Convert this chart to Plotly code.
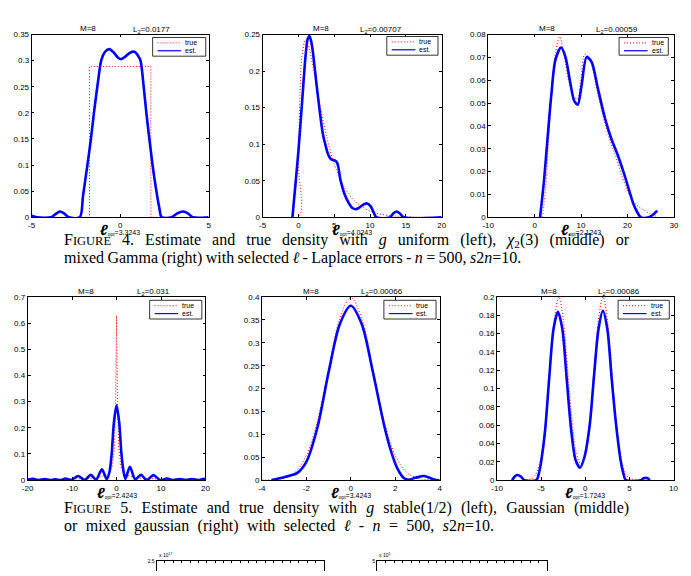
import plotly.graph_objects as go

W, H = 691, 576

# ---------------- data ----------------
# Figure 4 left : g uniform
uni_true = [(-5, 0), (-1.732, 0), (-1.732, 0.2887), (1.732, 0.2887), (1.732, 0), (5, 0)]
uni_est = [(-5, 0.003), (-4.7, 0), (-3.9, 0), (-3.65, 0.006), (-3.4, 0.011), (-3.15, 0.007),
           (-2.9, 0), (-2.28, 0), (-2.1, 0.04), (-1.85, 0.1), (-1.65, 0.15), (-1.48, 0.2),
           (-1.25, 0.26), (-1.07, 0.3), (-0.85, 0.317), (-0.61, 0.322), (-0.35, 0.315),
           (-0.1, 0.305), (0.07, 0.303), (0.3, 0.308), (0.55, 0.315), (0.81, 0.317),
           (1.0, 0.31), (1.15, 0.3), (1.3, 0.26), (1.48, 0.2), (1.65, 0.15), (1.83, 0.1),
           (2.0, 0.06), (2.2, 0.02), (2.35, 0), (2.9, 0), (3.2, 0.007), (3.55, 0.011),
           (3.85, 0.007), (4.1, 0), (5, 0)]

# Figure 4 middle : chi2(3)
chi_true = [(-5, 0), (0, 0), (0.03, 0.067), (0.1, 0.12), (0.25, 0.176), (0.5, 0.22), (1, 0.242),
            (1.5, 0.231), (2, 0.208), (3, 0.154), (4, 0.108), (5, 0.073), (6, 0.049), (7, 0.032),
            (8, 0.021), (10, 0.0085), (12, 0.0034), (15, 0.0009), (20, 0.0001)]
chi_est = [(-0.83, 0), (-0.5, 0.035), (0, 0.09), (0.5, 0.155), (1.0, 0.22), (1.3, 0.244),
           (1.55, 0.248), (1.8, 0.24), (2.0, 0.228), (2.5, 0.185), (2.92, 0.15), (3.4, 0.115),
           (3.75, 0.1), (4.2, 0.085), (4.6, 0.079), (5.0, 0.078), (5.4, 0.075), (5.9, 0.05),
           (6.4, 0.033), (7.0, 0.02), (7.5, 0.013), (8.0, 0.011), (8.6, 0.014), (9.2, 0.018),
           (9.6, 0.019), (10.1, 0.015), (10.5, 0.007), (10.9, 0), (12.8, 0), (13.2, 0.005),
           (13.7, 0.008), (14.2, 0.005), (14.7, 0), (20, 0)]

# Figure 4 right : mixed Gamma
gam_true = [(1.66, 0), (2.37, 0.013), (3.07, 0.036), (3.78, 0.057), (4.49, 0.072), (5.41, 0.079),
            (6.25, 0.072), (7.31, 0.060), (8.37, 0.053), (9.22, 0.0517), (9.93, 0.060),
            (10.85, 0.0714), (11.9, 0.069), (13.3, 0.057), (14.7, 0.0445), (16.1, 0.0345),
            (17.6, 0.026), (19.0, 0.017), (20.4, 0.010), (21.8, 0.0057), (23.2, 0.0036),
            (24.6, 0.0019), (26.4, 0.0003)]
gam_est = [(1.17, 0), (2.01, 0.0158), (2.72, 0.033), (3.57, 0.053), (4.49, 0.069), (5.69, 0.0743),
           (6.61, 0.0704), (7.67, 0.059), (8.52, 0.051), (9.29, 0.0493), (10.1, 0.0575),
           (11.2, 0.0701), (12.26, 0.068), (13.67, 0.056), (15.1, 0.0438), (16.5, 0.0345),
           (17.9, 0.0273), (19.33, 0.0187), (20.4, 0.0115), (21.45, 0.005), (22.9, 0),
           (24.6, 0), (25.5, 0.0011), (26.4, 0.0029)]

# Figure 5 left : stable(1/2)
stb_true = [(-20, 0.002), (-10, 0.004), (-5, 0.008), (-2, 0.02), (-1, 0.05), (-0.5, 0.12),
            (-0.2, 0.3), (0, 0.63), (0.2, 0.3), (0.5, 0.12), (1, 0.05), (2, 0.02), (5, 0.008),
            (10, 0.004), (20, 0.002)]
stb_est = [(-20, 0.001), (-18.8, 0.005), (-17.5, 0), (-16.2, 0.004), (-15, 0), (-13.8, 0.003),
           (-12.6, 0), (-11.5, 0.006), (-10.2, 0), (-8.6, 0.016), (-7.2, 0), (-5.8, 0.02),
           (-4.6, 0.002), (-3.3, 0.041), (-2.2, 0.004), (-1.6, 0.03), (-1.1, 0.1), (-0.6, 0.22),
           (0, 0.286), (0.6, 0.22), (1.1, 0.1), (1.6, 0.03), (2.0, 0.005), (3.0, 0.051),
           (4.2, 0.003), (5.5, 0.02), (6.8, 0), (8.3, 0.019), (9.8, 0), (11.3, 0.006),
           (12.8, 0), (14.2, 0.004), (15.6, 0), (17, 0.004), (18.4, 0), (19.6, 0.005), (20, 0.003)]

# Figure 5 middle : Gaussian
gau_true = [(-4, 0.0001), (-3.5, 0.0009), (-3, 0.0044), (-2.5, 0.0175), (-2, 0.054), (-1.5, 0.1295),
            (-1, 0.242), (-0.5, 0.352), (0, 0.399), (0.5, 0.352), (1, 0.242), (1.5, 0.1295),
            (2, 0.054), (2.5, 0.0175), (3, 0.0044), (3.5, 0.0009), (4, 0.0001)]
gau_est = [(-3.56, 0), (-3.2, 0.004), (-2.8, 0.009), (-2.4, 0.016), (-2.0, 0.04), (-1.5, 0.115),
           (-1.0, 0.235), (-0.5, 0.34), (0, 0.381), (0.5, 0.34), (1.0, 0.235), (1.5, 0.12),
           (1.8, 0.065), (2.1, 0.025), (2.4, 0.004), (2.6, 0.001), (2.9, 0.005), (3.3, 0.009),
           (3.6, 0.004), (3.85, 0), (4, 0)]

# Figure 5 right : mixed gaussian
mix_true = [(-7, 0), (-6, 0.0022), (-5.5, 0.0088), (-5, 0.027), (-4.5, 0.065), (-4, 0.121),
            (-3.5, 0.176), (-3, 0.2), (-2.5, 0.176), (-2, 0.121), (-1.5, 0.066), (-1, 0.029),
            (-0.5, 0.0175), (0, 0.029), (0.5, 0.066), (1, 0.121), (1.5, 0.176), (2, 0.2),
            (2.5, 0.176), (3, 0.121), (3.5, 0.065), (4, 0.027), (4.5, 0.0088), (5, 0.0022), (6, 0)]
mix_est = [(-8.3, 0), (-8.0, 0.004), (-7.7, 0.0057), (-7.3, 0.004), (-6.9, 0), (-5.55, 0),
           (-5.2, 0.01), (-4.6, 0.05), (-4.1, 0.11), (-3.6, 0.165), (-3.1, 0.184), (-2.6, 0.165),
           (-2.1, 0.11), (-1.6, 0.055), (-1.1, 0.022), (-0.6, 0.0136), (-0.1, 0.025), (0.5, 0.06),
           (1.0, 0.115), (1.5, 0.165), (2.0, 0.185), (2.5, 0.165), (3.0, 0.11), (3.5, 0.06),
           (4.0, 0.022), (4.3, 0.008), (4.6, 0), (6.3, 0), (6.6, 0.002), (6.85, 0.0025),
           (7.1, 0.002), (7.3, 0)]

series = [(uni_true, uni_est), (chi_true, chi_est), (gam_true, gam_est),
          (stb_true, stb_est), (gau_true, gau_est), (mix_true, mix_est)]
L2_values = ['0.0177', '0.00707', '0.00059', '0.031', '0.00066', '0.00086']
ell_values = ['3.3243', '4.0243', '2.1243', '2.4243', '3.4243', '1.7243']
M_value = '8'

x_ranges = [[-5, 5], [-5, 20], [-10, 30], [-20, 20], [-4, 4], [-10, 10]]
x_ticks = [[-5, 0, 5], [-5, 0, 5, 10, 15, 20], [-10, 0, 10, 20, 30],
           [-20, -10, 0, 10, 20], [-4, -2, 0, 2, 4], [-10, -5, 0, 5, 10]]
y_ranges = [[0, 0.35], [0, 0.25], [0, 0.08], [0, 0.7], [0, 0.4], [0, 0.2]]
y_steps = [0.05, 0.05, 0.01, 0.1, 0.05, 0.02]

# ---------------- layout geometry (pixels) ----------------
boxes = [(26, 206, 31, 216.7), (260.7, 442.7, 31, 216.7), (490, 678.7, 31, 216.7),
         (22, 202.7, 297.7, 483.7), (260, 440.7, 297.7, 483.7), (499, 678.3, 297.7, 483.7)]
title_fracs = [(0.317, 0.675), (0.326, 0.66), (0.318, 0.695), (0.33, 0.71), (0.277, 0.675), (0.296, 0.69)]
legend_boxes = [(149, 203, 34, 53), (387, 439, 33, 52), (623, 673, 34, 52),
                (146, 199, 301, 320), (384, 437, 301, 320), (622, 674, 301, 320)]

def px(x):
    return x / W

def py(y):
    return 1 - y / H

def fmt(v):
    return '%g' % v

SANS = 'Liberation Sans'
SERIF = 'Liberation Serif'
DOTS = '1px,2px'

fig = go.Figure()
annotations = []
shapes = []

for i, ((tr, es), box) in enumerate(zip(series, boxes)):
    n = i + 1
    xa = 'x' if n == 1 else f'x{n}'
    ya = 'y' if n == 1 else f'y{n}'
    tx, ty = zip(*tr)
    ex, ey = zip(*es)
    true_shape = 'linear' if i in (0, 3) else 'spline'
    fig.add_trace(go.Scatter(x=tx, y=ty, mode='lines', xaxis=xa, yaxis=ya,
                             line=dict(color='#ff0000', width=1, dash=DOTS, shape=true_shape),
                             showlegend=False, hoverinfo='skip'))
    fig.add_trace(go.Scatter(x=ex, y=ey, mode='lines', xaxis=xa, yaxis=ya,
                             line=dict(color='#0000ff', width=2.6, shape='spline', smoothing=0.8),
                             showlegend=False, hoverinfo='skip'))
    l, r, t, b = box
    yr = y_ranges[i]
    nstep = int(round(yr[1] / y_steps[i]))
    yt = [round(k * y_steps[i], 4) for k in range(nstep + 1)]
    common = dict(showline=True, linecolor='black', linewidth=0.8, mirror='ticks',
                  ticks='inside', ticklen=3, tickwidth=0.8, tickcolor='black',
                  showgrid=False, zeroline=False,
                  tickfont=dict(family=SANS, size=8, color='black'))
    xname = 'xaxis' if n == 1 else f'xaxis{n}'
    yname = 'yaxis' if n == 1 else f'yaxis{n}'
    fig.layout[xname] = dict(common, domain=[px(l), px(r)], anchor=ya, range=x_ranges[i],
                             tickvals=x_ticks[i], ticktext=[fmt(v) for v in x_ticks[i]])
    fig.layout[yname] = dict(common, domain=[py(b), py(t)], anchor=xa, range=yr,
                             tickvals=yt, ticktext=[fmt(v) for v in yt])

    # titles
    mf, lf = title_fracs[i]
    ty_px = t - 6
    annotations.append(dict(text=f'M={M_value}', x=px(l + mf * (r - l)), y=py(ty_px),
                            xref='paper', yref='paper', xanchor='center', yanchor='middle',
                            showarrow=False, font=dict(family=SANS, size=8, color='black')))
    annotations.append(dict(text=f'L<sub>2</sub>={L2_values[i]}', x=px(l + lf * (r - l)), y=py(ty_px + 1),
                            xref='paper', yref='paper', xanchor='center', yanchor='middle',
                            showarrow=False, font=dict(family=SANS, size=8, color='black')))
    # x label
    lab_y = b + 12.5
    annotations.append(dict(text=f'<span style="font-size:15px"><b><i>ℓ</i></b></span><sub>opt</sub>={ell_values[i]}',
                            x=px((l + r) / 2), y=py(lab_y), xref='paper', yref='paper',
                            xanchor='center', yanchor='middle',
                            showarrow=False, font=dict(family=SANS, size=7, color='black')))
    # legend box
    gl, gr, gt, gb = legend_boxes[i]
    shapes.append(dict(type='rect', xref='paper', yref='paper', x0=px(gl), x1=px(gr),
                       y0=py(gb), y1=py(gt), line=dict(color='black', width=0.8),
                       fillcolor='white', layer='above'))
    r1 = gt + 5.5
    r2 = gt + 13.5
    shapes.append(dict(type='line', xref='paper', yref='paper', x0=px(gl + 5), x1=px(gl + 29),
                       y0=py(r1), y1=py(r1), line=dict(color='#ff0000', width=1, dash=DOTS),
                       layer='above'))
    shapes.append(dict(type='line', xref='paper', yref='paper', x0=px(gl + 5), x1=px(gl + 29),
                       y0=py(r2), y1=py(r2), line=dict(color='#0000ff', width=1.2),
                       layer='above'))
    annotations.append(dict(text='true', x=px(gl + 31), y=py(r1), xref='paper', yref='paper',
                            xanchor='left', yanchor='middle', showarrow=False,
                            font=dict(family=SANS, size=7, color='black')))
    annotations.append(dict(text='est.', x=px(gl + 31), y=py(r2), xref='paper', yref='paper',
                            xanchor='left', yanchor='middle', showarrow=False,
                            font=dict(family=SANS, size=7, color='black')))

# partial plots at the bottom of the page (only their top edge is visible)
bottom_boxes = [(153, 323), (377, 550)]
bottom_top_tick = ['2.5', '5']
bottom_exp = ['17', '5']
for j, (l, r) in enumerate(bottom_boxes):
    n = 7 + j
    xa, ya = f'x{n}', f'y{n}'
    fig.add_trace(go.Scatter(x=[None], y=[None], xaxis=xa, yaxis=ya, mode='lines',
                             showlegend=False, hoverinfo='skip'))
    fig.layout[f'xaxis{n}'] = dict(domain=[px(l), px(r)], anchor=ya, side='top', range=[0, 10],
                                   showline=True, linecolor='black', linewidth=0.8, mirror=False,
                                   ticks='inside', ticklen=2, tickwidth=0.6, tickcolor='black',
                                   tickvals=[k * 0.5 for k in range(21)],
                                   showticklabels=False, showgrid=False, zeroline=False)
    fig.layout[f'yaxis{n}'] = dict(domain=[0, py(566)], anchor=xa, range=[2.3, 2.5],
                                   showline=True, linecolor='black', linewidth=0.8, mirror=True,
                                   ticks='inside', ticklen=2, tickcolor='black', tickvals=[2.5],
                                   ticktext=[bottom_top_tick[j]], showgrid=False, zeroline=False,
                                   tickfont=dict(family=SANS, size=5, color='black'))
    annotations.append(dict(text=f'x 10<sup>{bottom_exp[j]}</sup>', x=px(l), y=py(560),
                            xref='paper', yref='paper', xanchor='left', yanchor='middle',
                            showarrow=False, font=dict(family=SANS, size=5, color='black')))

# captions
cap_font = dict(family=SERIF, size=16, color='black')
sc = '<span style="font-size:12.5px">IGURE</span>'
captions = [
    (240, 7.0, f'F{sc} 4. Estimate and true density with <i>g</i> uniform (left), <i>χ</i><sub>2</sub>(3) (middle) or'),
    (258, -0.6, 'mixed Gamma (right) with selected <i>ℓ</i> - Laplace errors - <i>n</i> = 500, <i>s</i>2<i>n</i>=10.'),
    (512, 5.2, f'F{sc} 5. Estimate and true density with <i>g</i> stable(1/2) (left), Gaussian (middle)'),
    (530, 4.4, 'or mixed gaussian (right) with selected <i>ℓ</i> - <i>n</i> = 500, <i>s</i>2<i>n</i>=10.'),
]
for yc, ws, txt in captions:
    annotations.append(dict(text=f'<span style="word-spacing:{ws}px">{txt}</span>',
                            x=px(57), y=py(yc), xref='paper', yref='paper',
                            xanchor='left', yanchor='middle', showarrow=False, font=cap_font))

fig.update_layout(width=W, height=H, margin=dict(l=0, r=0, t=0, b=0),
                  paper_bgcolor='white', plot_bgcolor='white',
                  annotations=annotations, shapes=shapes, showlegend=False)

fig.write_html('out.html')
